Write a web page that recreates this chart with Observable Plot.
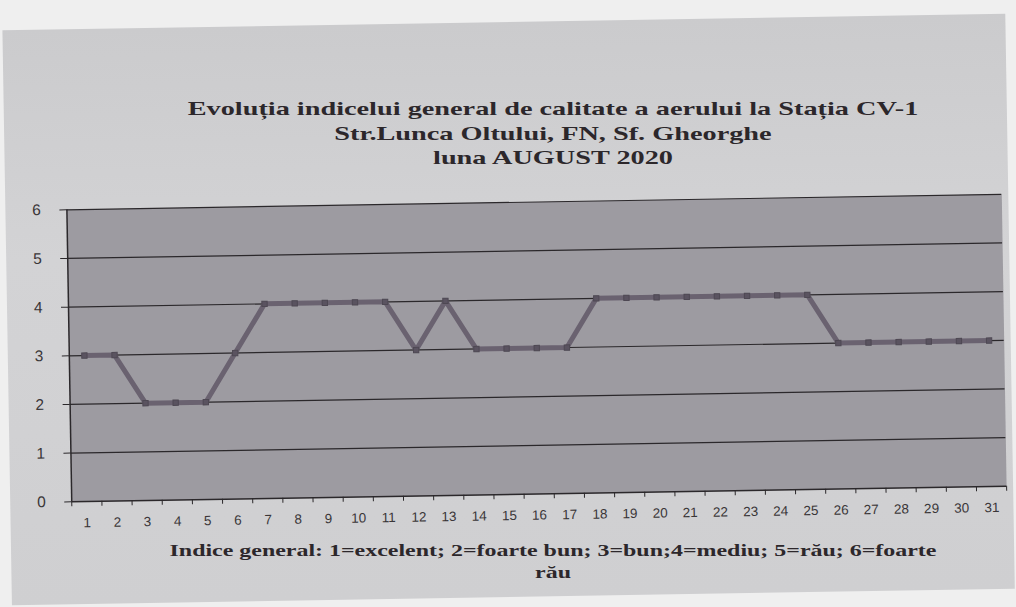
<!DOCTYPE html>
<html><head><meta charset="utf-8">
<script src="https://cdn.jsdelivr.net/npm/d3@7"></script>
<script src="https://cdn.jsdelivr.net/npm/@observablehq/plot@0.6"></script>
<style>
html,body{margin:0;padding:0;}
body{width:1016px;height:607px;overflow:hidden;background:#efefef;position:relative;}
#wrap{position:absolute;left:0;top:0;width:1016px;height:607px;transform:rotate(-0.95deg);transform-origin:508px 303px;}
#panel{position:absolute;left:7px;top:22px;width:1003px;height:575px;background:linear-gradient(#cbcbcd,#d3d3d5 40%,#cfcfd1);}
.t{position:absolute;left:100px;width:906px;text-align:center;font-family:"Liberation Serif",serif;font-weight:bold;color:#2c272b;transform:scaleX(1.45);transform-origin:453px 0;white-space:nowrap;}
#title{top:97px;font-size:19.5px;line-height:24.5px;}
#caption{top:540px;font-size:16.5px;line-height:22px;}
#chart{position:absolute;left:0;top:182px;}
</style>
</head><body>
<div id="wrap">
<div id="panel"></div>
<div id="chart"></div>
</div>
<div id="title" class="t">Evoluția indicelui general de calitate a aerului la Stația CV-1<br>Str.Lunca Oltului, FN, Sf. Gheorghe<br>luna AUGUST 2020</div>
<div id="caption" class="t">Indice general: 1=excelent; 2=foarte bun; 3=bun;4=mediu; 5=rău; 6=foarte<br>rău</div>
<script>
const days = [1,2,3,4,5,6,7,8,9,10,11,12,13,14,15,16,17,18,19,20,21,22,23,24,25,26,27,28,29,30,31];
const indexValues = [3,3,2,2,2,3,4,4,4,4,4,3,4,3,3,3,3,4,4,4,4,4,4,4,4,3,3,3,3,3,3];
const yTicks = [0,1,2,3,4,5,6];

const data = days.map((d, i) => ({day: d, value: indexValues[i]}));
const bounds = [0, ...days].map(d => d + 0.5);

const chart = Plot.plot({
  width: 1016,
  height: 340,
  marginTop: 20,
  marginBottom: 28,
  marginLeft: 68,
  marginRight: 13,
  style: {background: "transparent", fontFamily: "'Liberation Sans', Arial, sans-serif", color: "#3a3638"},
  x: {type: "linear", domain: [0.5, 31.5]},
  y: {domain: [0, 6]},
  marks: [
    Plot.frame({fill: "#9d9ba1", stroke: null}),
    Plot.ruleY(yTicks.slice(1), {stroke: "#2b282b", strokeWidth: 1.2}),
    Plot.ruleY([0], {stroke: "#2b282b", strokeWidth: 1.5}),
    Plot.ruleX([0.5], {stroke: "#2b282b", strokeWidth: 1.5}),
    Plot.axisY(yTicks, {tickSize: 7, tickPadding: 19, fontSize: 15.5, stroke: "#2b282b", label: null}),
    Plot.axisX(days, {tickSize: 0, tickPadding: 16, fontSize: 13.5, label: null}),
    Plot.axisX(bounds, {tickSize: 5, tickFormat: () => "", stroke: "#2b282b", label: null}),
    Plot.line(data, {x: "day", y: "value", stroke: "#6a6270", strokeWidth: 5, strokeLinejoin: "round"}),
    Plot.dot(data, {x: "day", y: "value", symbol: "square", r: 3, fill: "#5a5360", stroke: "#4e4853", strokeWidth: 1})
  ]
});
document.getElementById("chart").appendChild(chart);
</script>
</body></html>
